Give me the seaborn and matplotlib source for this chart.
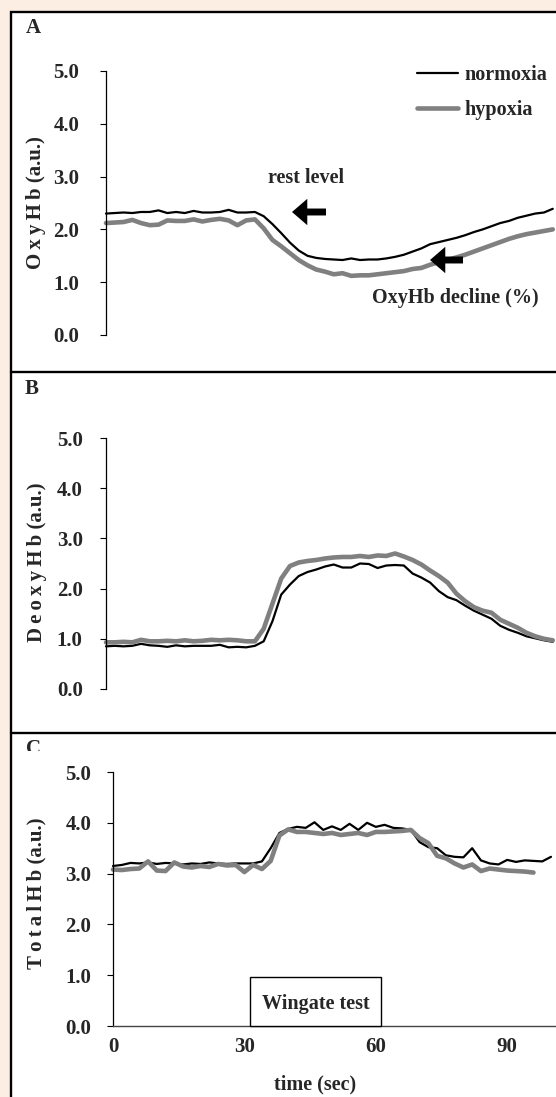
import numpy as np
import pandas as pd
import matplotlib
matplotlib.use("Agg")
import matplotlib.pyplot as plt
import seaborn as sns
from matplotlib.patches import Rectangle
from matplotlib.lines import Line2D
from matplotlib.transforms import Bbox, TransformedBbox

# ---------------- data ----------------
time_a = list(range(0, 104, 2))          # 0..102 s
oxy_normoxia = [2.30, 2.31, 2.32, 2.31, 2.33, 2.33, 2.36, 2.31, 2.33, 2.31, 2.35, 2.32, 2.32, 2.33, 2.37, 2.32, 2.32, 2.33,
                2.25, 2.10, 1.93, 1.75, 1.60, 1.50, 1.46, 1.44, 1.43, 1.42, 1.45, 1.42, 1.43,
                1.43, 1.45, 1.48, 1.52, 1.58, 1.64, 1.72, 1.76, 1.80, 1.84, 1.89, 1.95, 2.00, 2.06, 2.12, 2.16,
                2.22, 2.26, 2.30, 2.32, 2.39]
oxy_hypoxia = [2.12, 2.13, 2.14, 2.18, 2.12, 2.08, 2.09, 2.17, 2.16, 2.16, 2.19, 2.15, 2.18, 2.20, 2.17, 2.08, 2.17, 2.19,
               2.02, 1.80, 1.68, 1.55, 1.42, 1.32, 1.24, 1.20, 1.15, 1.17, 1.12, 1.13, 1.13,
               1.15, 1.17, 1.19, 1.21, 1.25, 1.27, 1.33, 1.38, 1.42, 1.47, 1.52, 1.58, 1.64, 1.70, 1.76, 1.82,
               1.87, 1.91, 1.94, 1.97, 2.00]

time_b = list(range(0, 104, 2))
deoxy_normoxia = [0.85, 0.86, 0.85, 0.86, 0.90, 0.87, 0.86, 0.84, 0.87, 0.85, 0.86, 0.86, 0.86, 0.88, 0.83, 0.84, 0.83, 0.86,
                  0.95, 1.35, 1.88, 2.08, 2.25, 2.33, 2.38, 2.44, 2.48, 2.42, 2.42, 2.50, 2.49,
                  2.41, 2.46, 2.47, 2.46, 2.30, 2.22, 2.12, 1.95, 1.83, 1.77, 1.66, 1.56, 1.48, 1.40, 1.26, 1.18,
                  1.12, 1.05, 1.01, 0.97, 0.94]
deoxy_hypoxia = [0.93, 0.93, 0.94, 0.93, 0.98, 0.95, 0.95, 0.96, 0.95, 0.97, 0.95, 0.96, 0.98, 0.97, 0.98, 0.97, 0.95, 0.95,
                 1.20, 1.70, 2.20, 2.45, 2.52, 2.55, 2.57, 2.60, 2.62, 2.63, 2.63, 2.65, 2.63,
                 2.66, 2.65, 2.70, 2.64, 2.57, 2.48, 2.36, 2.25, 2.12, 1.90, 1.75, 1.63, 1.56, 1.52, 1.38, 1.30,
                 1.22, 1.12, 1.05, 1.00, 0.97]

time_c_normoxia = list(range(0, 102, 2))   # 0..100 s
time_c_hypoxia = list(range(0, 98, 2))     # 0..96 s
total_normoxia = [3.15, 3.17, 3.21, 3.20, 3.22, 3.19, 3.21, 3.20, 3.18, 3.20, 3.19, 3.22, 3.20, 3.19, 3.20, 3.20, 3.20, 3.24,
                  3.50, 3.80, 3.88, 3.92, 3.90, 4.01, 3.86, 3.93, 3.86, 3.98, 3.86, 4.00, 3.92,
                  3.96, 3.90, 3.89, 3.86, 3.62, 3.52, 3.50, 3.36, 3.33, 3.32, 3.50, 3.26, 3.20, 3.18, 3.27, 3.23,
                  3.26, 3.25, 3.24, 3.33]
total_hypoxia = [3.08, 3.07, 3.09, 3.10, 3.24, 3.06, 3.05, 3.22, 3.14, 3.12, 3.15, 3.13, 3.19, 3.16, 3.17, 3.03, 3.17, 3.09,
                 3.25, 3.75, 3.87, 3.82, 3.82, 3.80, 3.78, 3.80, 3.76, 3.78, 3.80, 3.76, 3.82,
                 3.82, 3.83, 3.84, 3.86, 3.70, 3.60, 3.35, 3.30, 3.20, 3.12, 3.18, 3.05, 3.10, 3.08, 3.06, 3.05,
                 3.04, 3.02]

conditions = ["normoxia", "hypoxia"]
y_ticks = [0, 1, 2, 3, 4, 5]
y_ticklabels = ["0.0", "1.0", "2.0", "3.0", "4.0", "5.0"]
x_ticks = [0, 30, 60, 90]
x_ticklabels = ["0", "30", "60", "90"]
wingate_window = (31.3, 61.2)

# ---------------- style ----------------
W, H = 556, 1097
BG = "#FDEEE4"
GREY = "#808080"
sns.set_style("white")
plt.rcParams["font.family"] = ["Liberation Serif", "DejaVu Serif"]
plt.rcParams["font.weight"] = "bold"

fig = plt.figure(figsize=(W / 100, H / 100), dpi=100, facecolor=BG)


def fx(x):
    return x / W


def fy(y):
    return 1 - y / H


# outer white frame and panel dividers
fig.patches.append(Rectangle((fx(11), -0.05), 1.0, fy(12) + 0.05, transform=fig.transFigure,
                             facecolor="white", edgecolor="black", linewidth=1.7, zorder=-5))
for yy in (372, 733):
    fig.add_artist(Line2D([fx(11), 1.0], [fy(yy), fy(yy)], transform=fig.transFigure,
                          color="black", lw=1.7))

PX = 4.38  # pixels per second
TICK_FS = 15


def make_axes(left, top, bottom, right=556):
    ax = fig.add_axes([fx(left), fy(bottom), (right - left) / W, (bottom - top) / H])
    ax.patch.set_alpha(0)
    return ax


def draw(ax, t_n, v_n, t_h, v_h):
    df = pd.DataFrame({
        "time": list(t_n) + list(t_h),
        "value": list(v_n) + list(v_h),
        "condition": ["normoxia"] * len(t_n) + ["hypoxia"] * len(t_h),
    })
    sns.lineplot(data=df, x="time", y="value", hue="condition", size="condition",
                 hue_order=conditions, size_order=conditions,
                 palette={"normoxia": "black", "hypoxia": GREY},
                 sizes={"normoxia": 1.6, "hypoxia": 3.3},
                 estimator=None, sort=False, legend=False, ax=ax)
    ax.set_xlabel("")
    ax.set_ylabel("")
    ax.set_ylim(0, 5)
    ax.set_yticks(y_ticks)
    ax.set_yticklabels(y_ticklabels)
    for s in ("top", "right"):
        ax.spines[s].set_visible(False)
    ax.spines["left"].set_color("black")
    ax.spines["left"].set_linewidth(0.9)
    for ln in ax.lines:
        ln.set_clip_on(False)


# Panel A
axA = make_axes(106, 71, 335)
draw(axA, time_a, oxy_normoxia, time_a, oxy_hypoxia)
axA.set_xlim(0, 450 / PX)
axA.spines["bottom"].set_visible(False)
axA.set_xticks([])
axA.tick_params(axis="y", left=True, direction="out", length=4.3, width=0.8, color="black",
                pad=15, labelsize=TICK_FS)

# Panel B
axB = make_axes(106, 438, 689)
draw(axB, time_b, deoxy_normoxia, time_b, deoxy_hypoxia)
axB.set_xlim(0, 450 / PX)
axB.spines["bottom"].set_visible(False)
axB.set_xticks([])
axB.tick_params(axis="y", left=True, direction="out", length=4.3, width=0.8, color="black",
                pad=12.5, labelsize=TICK_FS)

# Panel C
axC = make_axes(113, 772, 1026)
draw(axC, time_c_normoxia, total_normoxia, time_c_hypoxia, total_hypoxia)
axC.set_xlim(0, 443 / PX)
axC.spines["bottom"].set_color("#444444")
axC.spines["bottom"].set_linewidth(1.0)
axC.set_xticks(x_ticks)
axC.set_xticklabels(x_ticklabels)
axC.tick_params(axis="y", left=True, direction="out", length=4.0, width=0.8, color="black",
                pad=11.5, labelsize=TICK_FS)
axC.tick_params(axis="x", bottom=False, length=0, pad=8, labelsize=TICK_FS)
axC.add_patch(Rectangle((wingate_window[0], 0), wingate_window[1] - wingate_window[0], 0.96,
                        facecolor="white", edgecolor="black", lw=1.0, zorder=3, clip_on=False))
axC.text(sum(wingate_window) / 2, 0.44, "Wingate test", ha="center", va="center",
         fontsize=14.5, fontweight="bold", zorder=4)

# legend
handles = [Line2D([], [], color="black", lw=1.6), Line2D([], [], color=GREY, lw=3.3)]
axA.legend(handles, conditions, loc="center left", bbox_to_anchor=(fx(417), fy(92.5)),
           bbox_transform=fig.transFigure, frameon=False, borderpad=0, borderaxespad=0,
           handlelength=2.06, handletextpad=0.3, labelspacing=0.75,
           prop={"family": ["Liberation Serif"], "weight": "bold", "size": 14.5})

# annotations in panel A
fig.text(fx(306), fy(178), "rest level", ha="center", va="center", fontsize=14.5, fontweight="bold")
fig.text(fx(455), fy(298), "OxyHb decline (%)", ha="center", va="center", fontsize=14.5, fontweight="bold")
arrow_style = "simple,head_length=1.1,head_width=1.9,tail_width=0.5"
for tip, tail in (((292, 212), (326, 212)), ((430, 260), (463, 260))):
    axA.annotate("", xy=(tip[0], H - tip[1]), xytext=(tail[0], H - tail[1]),
                 xycoords="figure pixels", textcoords="figure pixels",
                 arrowprops=dict(arrowstyle=arrow_style, color="black", mutation_scale=10,
                                 shrinkA=0, shrinkB=0, lw=0))

# axis titles
fig.text(fx(36), fy(203), "O\u2009x\u2009y\u2009H\u2009b (a.u.)", rotation=90, ha="center", va="center",
         fontsize=15, fontweight="bold")
fig.text(fx(37), fy(562), "D\u2009e\u2009o\u2009x\u2009y\u2009H\u2009b (a.u.)", rotation=90, ha="center",
         va="center", fontsize=15, fontweight="bold")
fig.text(fx(36), fy(893), "T\u2009o\u2009t\u2009a\u2009l\u2009H\u2009b (a.u.)", rotation=90, ha="center",
         va="center", fontsize=15, fontweight="bold")
fig.text(fx(315), fy(1084), "time (sec)", ha="center", va="center", fontsize=14.5, fontweight="bold")

# panel letters
fig.text(fx(26), fy(28), "A", ha="left", va="center", fontsize=15, fontweight="bold")
fig.text(fx(25), fy(389), "B", ha="left", va="center", fontsize=15, fontweight="bold")
tc = fig.text(fx(26), fy(739), "C", ha="left", va="top", fontsize=15, fontweight="bold")
tc.set_clip_box(TransformedBbox(Bbox([[0, fy(751)], [1, 1]]), fig.transFigure))
tc.set_clip_on(True)

fig.savefig("out.png", dpi=100, facecolor=BG)
